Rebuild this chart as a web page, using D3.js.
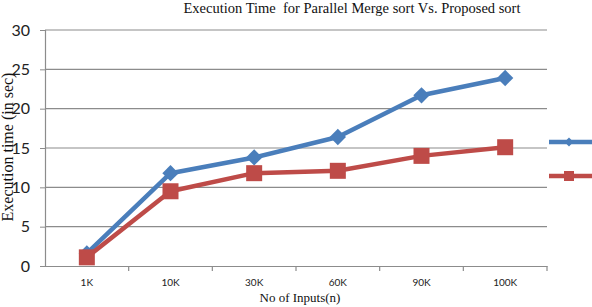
<!DOCTYPE html>
<html><head><meta charset="utf-8">
<script src="https://cdn.jsdelivr.net/npm/d3@7"></script>
<style>body{margin:0;background:#fff;overflow:hidden}</style>
</head><body>
<svg id="c" width="592" height="307"></svg>
<script>
const categories = ["1K","10K","30K","60K","90K","100K"];
const parallelMerge = [1.6, 11.8, 13.8, 16.4, 21.7, 23.9];
const proposed = [1.1, 9.5, 11.8, 12.1, 14.0, 15.1];
const yTicks = [0,5,10,15,20,25,30];

const svg = d3.select("#c");
const L = 45, R = 547, T = 30, B = 266;
const x = d3.scaleBand().domain(categories).range([L, R]);
const y = d3.scaleLinear().domain([0,30]).range([B, T]);

// gridlines
svg.append("g").selectAll("line").data(yTicks.filter(d=>d>0)).join("line")
  .attr("x1", L).attr("x2", R).attr("y1", d=>y(d)).attr("y2", d=>y(d))
  .attr("stroke", "#8c8c8c").attr("stroke-width", 1.2);

// y axis
const ya = svg.append("g").attr("transform", `translate(${L},0)`)
  .call(d3.axisLeft(y).tickValues(yTicks).tickSize(5).tickPadding(10));
ya.select(".domain").attr("stroke", "#8c8c8c").attr("stroke-width", 1.2);
ya.selectAll(".tick line").attr("stroke", "#8c8c8c");
ya.selectAll("text").attr("font-family", "Lato, 'Open Sans', sans-serif")
  .attr("font-size", 16).attr("fill", "#222");

// x axis
const xa = svg.append("g").attr("transform", `translate(0,${B})`)
  .call(d3.axisBottom(x).tickSize(0).tickPadding(13));
xa.select(".domain").attr("stroke", "#8c8c8c").attr("stroke-width", 1.2);
xa.selectAll("text").attr("font-family", "Lato, 'Open Sans', sans-serif")
  .attr("font-size", 10).attr("fill", "#222");
// tick marks at band boundaries
svg.append("g").selectAll("line").data(categories).join("line")
  .attr("x1", d=>x(d)+x.bandwidth()).attr("x2", d=>x(d)+x.bandwidth())
  .attr("y1", B).attr("y2", B+5).attr("stroke", "#8c8c8c").attr("stroke-width", 1.2);

const cx = d => x(d) + x.bandwidth()/2;
const line = d3.line().x((d,i)=>cx(categories[i])).y(d=>y(d));

function series(vals, color, shape) {
  svg.append("path").datum(vals).attr("d", line).attr("fill","none")
    .attr("stroke", color).attr("stroke-width", 4.5).attr("stroke-linejoin","round");
  const g = svg.append("g");
  vals.forEach((v,i)=>{
    const px = cx(categories[i]), py = y(v);
    if (shape === "diamond") {
      g.append("path").attr("d", d3.symbol(d3.symbolDiamond2, 170)())
        .attr("transform", `translate(${px},${py})`)
        .attr("fill", color);
    } else {
      g.append("rect").attr("x", px-8).attr("y", py-8).attr("width", 16).attr("height", 16)
        .attr("fill", color);
    }
  });
}
series(parallelMerge, "#4a7ebb", "diamond");
series(proposed, "#be4b48", "square");

// legend (clipped at right edge)
const leg = [["#4a7ebb","diamond",142],["#be4b48","square",176]];
leg.forEach(([c,s,ly])=>{
  svg.append("line").attr("x1",549).attr("x2",600).attr("y1",ly).attr("y2",ly)
    .attr("stroke",c).attr("stroke-width",4.5);
  if (s==="diamond") {
    svg.append("path").attr("d", d3.symbol(d3.symbolDiamond2, 50)())
      .attr("transform",`translate(569,${ly})`).attr("fill",c);
  } else {
    svg.append("rect").attr("x",564).attr("y",ly-5).attr("width",10).attr("height",10).attr("fill",c);
  }
});

// titles
svg.append("text").attr("x", 352).attr("y", 13).attr("text-anchor","middle")
  .attr("font-family","'Liberation Serif', 'Times New Roman', serif").attr("font-size",14.5)
  .attr("fill","#111").attr("xml:space","preserve")
  .text("Execution Time  for Parallel Merge sort Vs. Proposed sort");
svg.append("text").attr("transform","translate(13,147) rotate(-90)").attr("text-anchor","middle")
  .attr("font-family","'Liberation Serif', 'Times New Roman', serif").attr("font-size",16)
  .attr("fill","#111").text("Execution time (in sec)");
svg.append("text").attr("x", 300).attr("y", 302).attr("text-anchor","middle")
  .attr("font-family","'Liberation Serif', 'Times New Roman', serif").attr("font-size",13)
  .attr("fill","#111").text("No of Inputs(n)");
</script>
</body></html>
